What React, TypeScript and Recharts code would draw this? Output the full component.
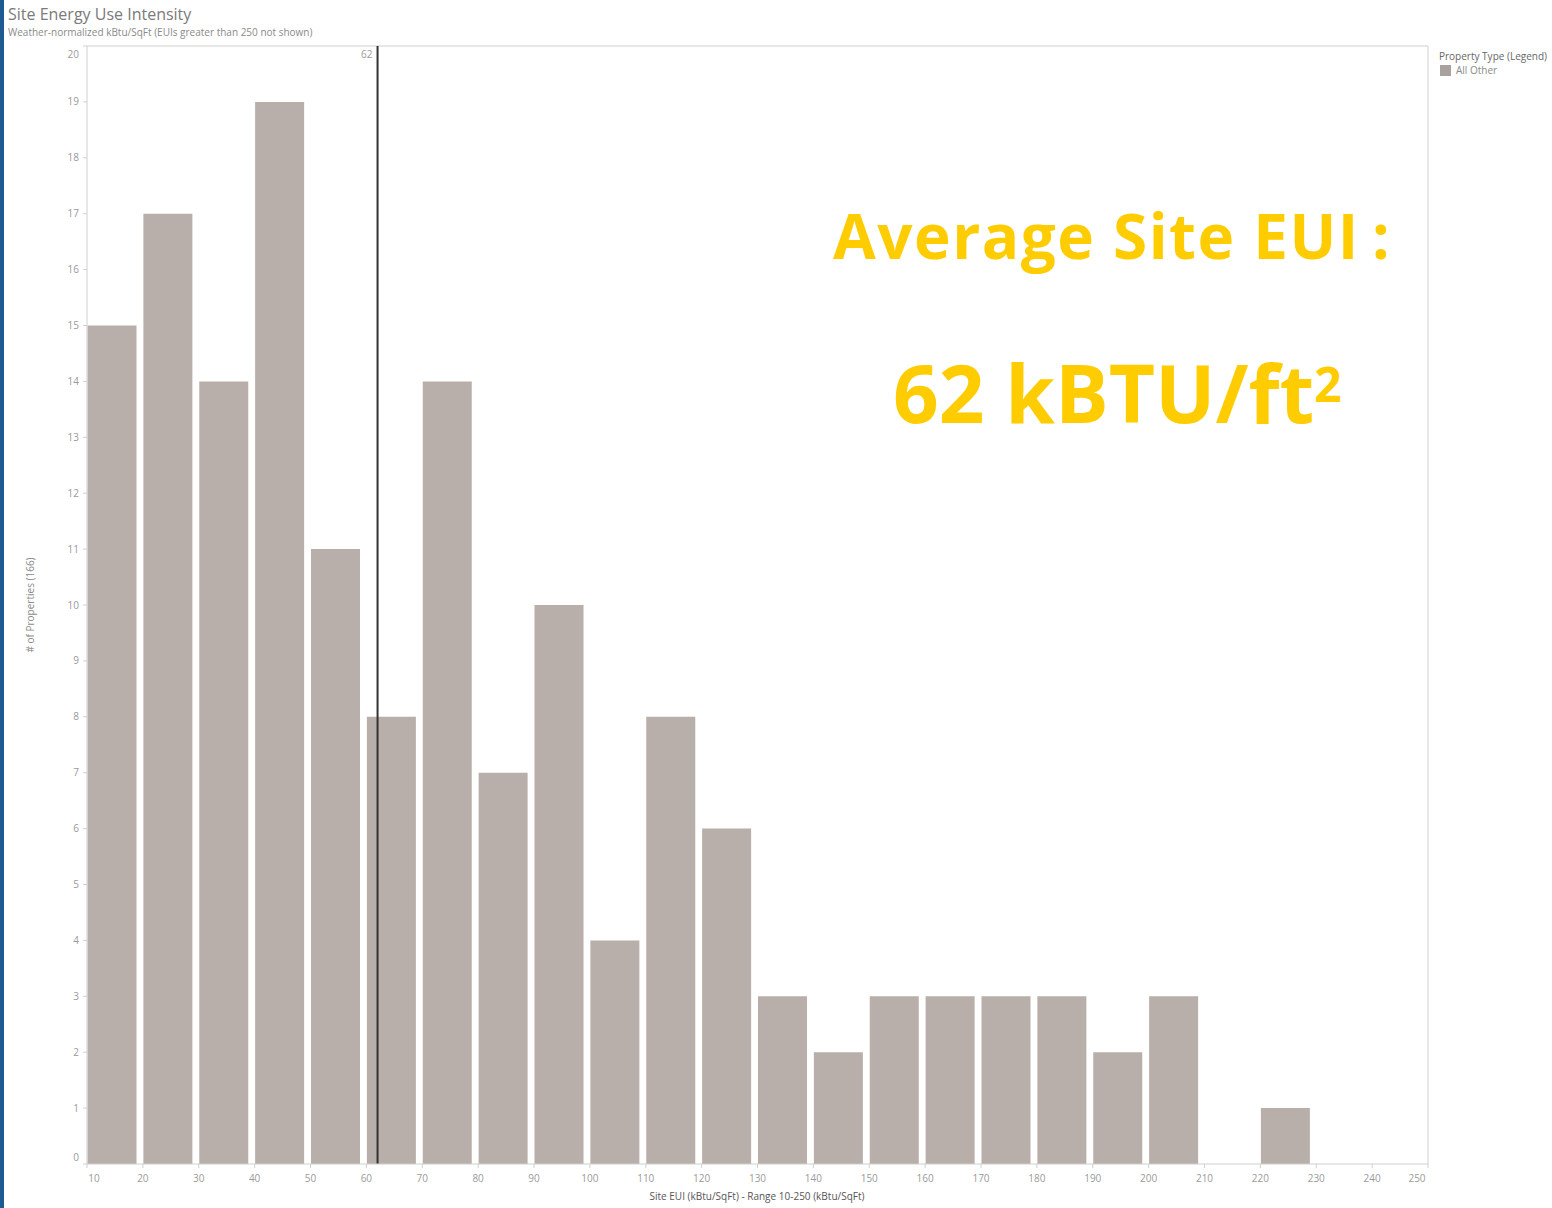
import { BarChart, Bar, XAxis, YAxis, ReferenceLine, Rectangle } from 'recharts';

// histogram bins (kBtu/SqFt), lower edge of each 10-wide bin
const binStarts = [10, 20, 30, 40, 50, 60, 70, 80, 90, 100, 110, 120, 130, 140, 150, 160, 170, 180, 190, 200, 210, 220, 230, 240];
const counts = [15, 17, 14, 19, 11, 8, 14, 7, 10, 4, 8, 6, 3, 2, 3, 3, 3, 3, 2, 3, 0, 1, 0, 0];
const xTicks = [10, 20, 30, 40, 50, 60, 70, 80, 90, 100, 110, 120, 130, 140, 150, 160, 170, 180, 190, 200, 210, 220, 230, 240, 250];
const yTicks = [0, 1, 2, 3, 4, 5, 6, 7, 8, 9, 10, 11, 12, 13, 14, 15, 16, 17, 18, 19, 20];
const averageEui = 62;

const BAR_COLOR = '#b8aeaa';
const AXIS_COLOR = '#cfcfcf';
const TICK_COLOR = '#9a9a9a';
const FONT = '"Open Sans", Lato, sans-serif';

const data = binStarts.map((s, i) => ({ mid: s + 5, count: counts[i] }));

// Tableau keeps the end labels inside the plot edges
const XTick = (props: any) => {
  const { x, y, payload } = props;
  const v = payload.value;
  const shift = v === 10 ? 7 : v === 250 ? -11 : 0;
  return (
    <text x={x + shift} y={y + 12} textAnchor="middle" fill={TICK_COLOR} fontSize={10} fontFamily={FONT}>
      {v}
    </text>
  );
};

const YTick = (props: any) => {
  const { x, y, payload } = props;
  const v = payload.value;
  const shift = v === 20 ? 8 : v === 0 ? -7 : 0;
  return (
    <text x={x - 2} y={y + shift} dy={3.5} textAnchor="end" fill={TICK_COLOR} fontSize={10} fontFamily={FONT}>
      {v}
    </text>
  );
};

// bars sit on the left part of each bin, like Tableau's
const BinBar = (props: any) => <Rectangle {...props} x={props.x - 2.5} />;

export default function App() {
  return (
    <div style={{ position: 'absolute', left: 0, top: 0, width: 1552, height: 1208, background: '#fff', fontFamily: FONT, overflow: 'hidden' }}>
      <div style={{ position: 'absolute', left: 0, top: 0, width: 4, height: 1208, background: '#1f5a92' }} />
      <div style={{ position: 'absolute', left: 8, top: 3, fontSize: 16, color: '#7a7a7a' }}>Site Energy Use Intensity</div>
      <div style={{ position: 'absolute', left: 8, top: 25, fontSize: 10, color: '#8a8a8a' }}>
        Weather-normalized kBtu/SqFt (EUIs greater than 250 not shown)
      </div>

      <BarChart width={1552} height={1208} data={data} margin={{ top: 46, right: 124, bottom: 0, left: 0 }}>
        <XAxis
          type="number"
          dataKey="mid"
          domain={[10, 250]}
          ticks={xTicks}
          interval={0}
          height={44}
          stroke={AXIS_COLOR}
          tickSize={4}
          tick={<XTick />}
        />
        <YAxis
          type="number"
          domain={[0, 20]}
          ticks={yTicks}
          interval={0}
          width={87}
          stroke={AXIS_COLOR}
          tickSize={4}
          tick={<YTick />}
        />
        <ReferenceLine y={20} stroke={AXIS_COLOR} />
        <ReferenceLine x={250} stroke={AXIS_COLOR} />
        <Bar dataKey="count" fill={BAR_COLOR} barSize={49} shape={<BinBar />} isAnimationActive={false} />
        <ReferenceLine
          x={averageEui}
          stroke="#333"
          strokeWidth={2}
          label={{ value: String(averageEui), position: 'insideTopRight', fill: TICK_COLOR, fontSize: 10, fontFamily: FONT }}
        />
      </BarChart>

      <div style={{ position: 'absolute', left: 30, top: 605, transform: 'translate(-50%, -50%) rotate(-90deg)', fontSize: 10, color: '#8a8a8a', whiteSpace: 'nowrap' }}>
        # of Properties (166)
      </div>
      <div style={{ position: 'absolute', left: 757, top: 1189, transform: 'translateX(-50%)', fontSize: 10, color: '#555', whiteSpace: 'nowrap' }}>
        Site EUI (kBtu/SqFt) - Range 10-250 (kBtu/SqFt)
      </div>

      <div style={{ position: 'absolute', left: 1439, top: 49, fontSize: 10, color: '#666', whiteSpace: 'nowrap' }}>Property Type (Legend)</div>
      <div style={{ position: 'absolute', left: 1440, top: 65, width: 11, height: 11, background: '#a9a19d' }} />
      <div style={{ position: 'absolute', left: 1456, top: 63, fontSize: 10, color: '#8a8a8a', whiteSpace: 'nowrap' }}>All Other</div>

      <div style={{ position: 'absolute', left: 833, top: 204, fontSize: 62, fontWeight: 700, color: '#ffcc00', whiteSpace: 'nowrap', lineHeight: 1, letterSpacing: 1.5 }}>
        Average Site EUI<span style={{ marginLeft: 12 }}>:</span>
      </div>
      <div style={{ position: 'absolute', left: 893, top: 352, fontSize: 80, fontWeight: 700, color: '#ffcc00', whiteSpace: 'nowrap', lineHeight: 1 }}>
        62 kBTU/ft<sup style={{ fontSize: 48, verticalAlign: 'top', position: 'relative', top: 8 }}>2</sup>
      </div>
    </div>
  );
}
